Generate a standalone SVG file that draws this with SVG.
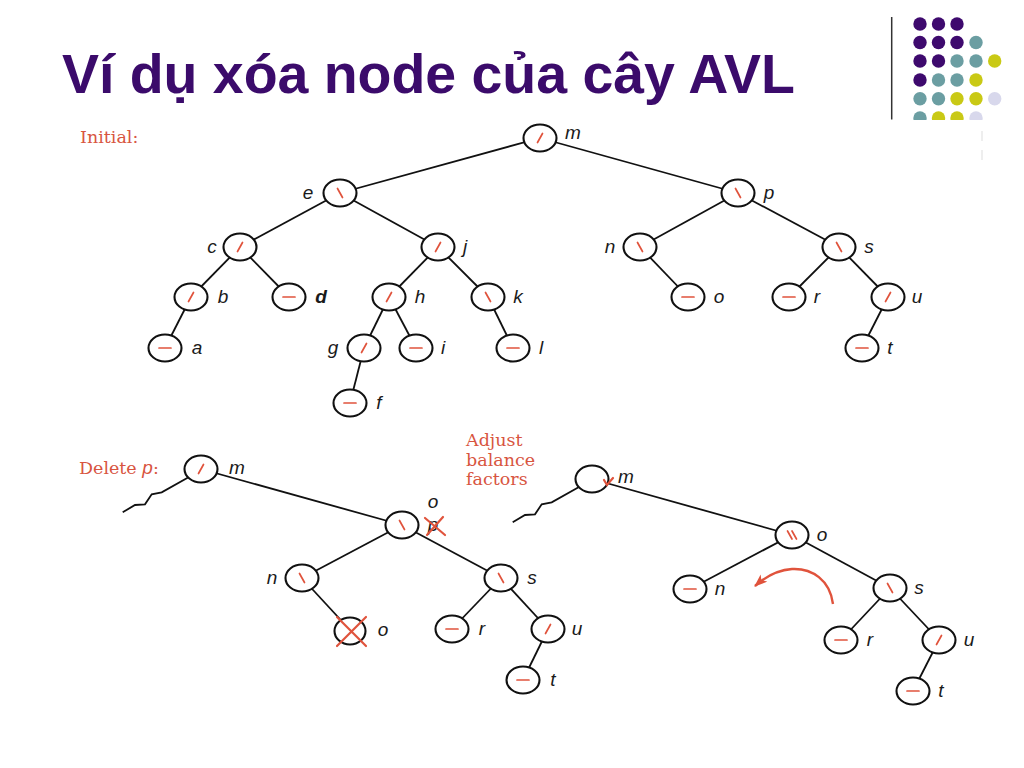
<svg xmlns="http://www.w3.org/2000/svg" width="1024" height="768" viewBox="0 0 1024 768">
<style>
.edge{stroke:#111;stroke-width:1.8;fill:none}
.nd{fill:#fff;stroke:#111;stroke-width:2.1}
.bf{stroke:#e0533c;stroke-width:1.7;stroke-linecap:round;fill:none}
.lb{font-family:"Liberation Sans",Arial,sans-serif;font-style:italic;font-size:19px;fill:#1a1a1a;text-anchor:middle}
.cap{font-family:"DejaVu Serif","Liberation Serif",serif;font-size:17.5px;fill:#d8553f}
.red{stroke:#e0533c;stroke-width:2.2;stroke-linecap:round;fill:none}
.pu{fill:#3e0a6e}.te{fill:#6b9ea2}.ye{fill:#c9c915}.la{fill:#d8d8ec}
</style>
<defs>
<path id="L" class="bf" d="M-2.5,4.5 L2.5,-4.5"/>
<path id="R" class="bf" d="M-2.5,-4.5 L2.5,4.5"/>
<path id="E" class="bf" d="M-6,0 L6,0"/>
<path id="RR" class="bf" d="M-4.5,-4 L0,4 M0,-4 L4.5,4"/>
<marker id="ah" markerUnits="userSpaceOnUse" viewBox="0 0 12 9" refX="11" refY="4.5" markerWidth="13" markerHeight="10" orient="auto">
<path d="M0,0 L12,4.5 L0,9 L3,4.5 z" fill="#e0533c"/>
</marker>
<clipPath id="dc"><rect x="900" y="0" width="124" height="120"/></clipPath>
</defs>

<!-- decoration -->
<g id="deco">
<line x1="891.7" y1="17" x2="891.7" y2="119.5" stroke="#333" stroke-width="1.5"/>
<g clip-path="url(#dc)">
<circle class="pu" cx="920" cy="24" r="6.7"/><circle class="pu" cx="938.5" cy="24" r="6.7"/><circle class="pu" cx="957" cy="24" r="6.7"/>
<circle class="pu" cx="920" cy="42.5" r="6.7"/><circle class="pu" cx="938.5" cy="42.5" r="6.7"/><circle class="pu" cx="957" cy="42.5" r="6.7"/><circle class="te" cx="976" cy="42.5" r="6.7"/>
<circle class="pu" cx="920" cy="61" r="6.7"/><circle class="pu" cx="938.5" cy="61" r="6.7"/><circle class="te" cx="957" cy="61" r="6.7"/><circle class="te" cx="976" cy="61" r="6.7"/><circle class="ye" cx="994.7" cy="61" r="6.7"/>
<circle class="pu" cx="920" cy="80" r="6.7"/><circle class="te" cx="938.5" cy="80" r="6.7"/><circle class="te" cx="957" cy="80" r="6.7"/><circle class="ye" cx="976" cy="80" r="6.7"/>
<circle class="te" cx="920" cy="98.7" r="6.7"/><circle class="te" cx="938.5" cy="98.7" r="6.7"/><circle class="ye" cx="957" cy="98.7" r="6.7"/><circle class="ye" cx="976" cy="98.7" r="6.7"/><circle class="la" cx="994.7" cy="98.7" r="6.7"/>
<circle class="te" cx="920" cy="118" r="6.7"/><circle class="ye" cx="938.5" cy="118" r="6.7"/><circle class="ye" cx="957" cy="118" r="6.7"/><circle class="la" cx="976" cy="118" r="6.7"/>
</g>
<line x1="982" y1="131" x2="982" y2="141" stroke="#ddd" stroke-width="1"/>
<line x1="982" y1="150" x2="982" y2="160" stroke="#ddd" stroke-width="1"/>
</g>

<text id="title" x="62" y="93" font-family="'Liberation Sans',Arial,sans-serif" font-weight="bold" font-size="55.5" fill="#3b0b6b" textLength="733" lengthAdjust="spacing">Ví dụ xóa node của cây AVL</text>

<text class="cap" x="80" y="143">Initial:</text>
<text class="cap" x="79" y="474">Delete <tspan font-family="'Liberation Sans',Arial,sans-serif" font-style="italic" font-size="19">p</tspan>:</text>
<text class="cap" x="466" y="446">Adjust</text>
<text class="cap" x="466" y="465.5">balance</text>
<text class="cap" x="466" y="485">factors</text>

<!-- connectors -->
<g id="connectors">
<line class="edge" x1="540" y1="138" x2="340" y2="193"/>
<line class="edge" x1="540" y1="138" x2="738" y2="193"/>
<line class="edge" x1="340" y1="193" x2="240" y2="247"/>
<line class="edge" x1="340" y1="193" x2="438" y2="247"/>
<line class="edge" x1="240" y1="247" x2="191" y2="297"/>
<line class="edge" x1="240" y1="247" x2="289" y2="297"/>
<line class="edge" x1="191" y1="297" x2="165" y2="348"/>
<line class="edge" x1="438" y1="247" x2="389" y2="297"/>
<line class="edge" x1="438" y1="247" x2="488" y2="297"/>
<line class="edge" x1="389" y1="297" x2="364" y2="348"/>
<line class="edge" x1="389" y1="297" x2="416" y2="348"/>
<line class="edge" x1="364" y1="348" x2="350" y2="403"/>
<line class="edge" x1="488" y1="297" x2="513" y2="348"/>
<line class="edge" x1="738" y1="193" x2="640" y2="247"/>
<line class="edge" x1="738" y1="193" x2="839" y2="247"/>
<line class="edge" x1="640" y1="247" x2="688" y2="297"/>
<line class="edge" x1="839" y1="247" x2="789" y2="297"/>
<line class="edge" x1="839" y1="247" x2="888" y2="297"/>
<line class="edge" x1="888" y1="297" x2="862" y2="348"/>

<polyline class="edge" points="122.7,512.3 135,505 145,504.3 151.7,494.3 161.7,492.3 189,477"/>
<line class="edge" x1="201" y1="469" x2="402" y2="525"/>
<line class="edge" x1="402" y1="525" x2="302" y2="578"/>
<line class="edge" x1="402" y1="525" x2="501" y2="578"/>
<line class="edge" x1="302" y1="578" x2="350" y2="630"/>
<line class="edge" x1="501" y1="578" x2="452" y2="629"/>
<line class="edge" x1="501" y1="578" x2="548" y2="629"/>
<line class="edge" x1="548" y1="629" x2="523" y2="680"/>

<polyline class="edge" points="512.7,522.3 525,515 535,514.3 541.7,504.3 551.7,502.3 579,487"/>
<line class="edge" x1="592" y1="479" x2="792" y2="535"/>
<line class="edge" x1="792" y1="535" x2="690" y2="589"/>
<line class="edge" x1="792" y1="535" x2="890" y2="588"/>
<line class="edge" x1="890" y1="588" x2="841" y2="640"/>
<line class="edge" x1="890" y1="588" x2="939" y2="640"/>
<line class="edge" x1="939" y1="640" x2="913" y2="691"/>
</g>

<!-- initial tree -->
<g id="i-m"><ellipse class="nd" cx="540" cy="138" rx="16.5" ry="13.5"/><use href="#L" x="540" y="138"/><text class="lb" x="573" y="139">m</text></g>
<g id="i-e"><ellipse class="nd" cx="340" cy="193" rx="16.5" ry="13.5"/><use href="#R" x="340" y="193"/><text class="lb" x="308" y="199">e</text></g>
<g id="i-p"><ellipse class="nd" cx="738" cy="193" rx="16.5" ry="13.5"/><use href="#R" x="738" y="193"/><text class="lb" x="769" y="199">p</text></g>
<g id="i-c"><ellipse class="nd" cx="240" cy="247" rx="16.5" ry="13.5"/><use href="#L" x="240" y="247"/><text class="lb" x="212" y="253">c</text></g>
<g id="i-j"><ellipse class="nd" cx="438" cy="247" rx="16.5" ry="13.5"/><use href="#L" x="438" y="247"/><text class="lb" x="465" y="253">j</text></g>
<g id="i-n"><ellipse class="nd" cx="640" cy="247" rx="16.5" ry="13.5"/><use href="#R" x="640" y="247"/><text class="lb" x="610" y="253">n</text></g>
<g id="i-s"><ellipse class="nd" cx="839" cy="247" rx="16.5" ry="13.5"/><use href="#R" x="839" y="247"/><text class="lb" x="869" y="253">s</text></g>
<g id="i-b"><ellipse class="nd" cx="191" cy="297" rx="16.5" ry="13.5"/><use href="#L" x="191" y="297"/><text class="lb" x="223" y="303">b</text></g>
<g id="i-d"><ellipse class="nd" cx="289" cy="297" rx="16.5" ry="13.5"/><use href="#E" x="289" y="297"/><text class="lb" x="321" y="303" font-weight="bold">d</text></g>
<g id="i-h"><ellipse class="nd" cx="389" cy="297" rx="16.5" ry="13.5"/><use href="#L" x="389" y="297"/><text class="lb" x="420" y="303">h</text></g>
<g id="i-k"><ellipse class="nd" cx="488" cy="297" rx="16.5" ry="13.5"/><use href="#R" x="488" y="297"/><text class="lb" x="518" y="303">k</text></g>
<g id="i-o"><ellipse class="nd" cx="688" cy="297" rx="16.5" ry="13.5"/><use href="#E" x="688" y="297"/><text class="lb" x="719" y="303">o</text></g>
<g id="i-r"><ellipse class="nd" cx="789" cy="297" rx="16.5" ry="13.5"/><use href="#E" x="789" y="297"/><text class="lb" x="817" y="303">r</text></g>
<g id="i-u"><ellipse class="nd" cx="888" cy="297" rx="16.5" ry="13.5"/><use href="#L" x="888" y="297"/><text class="lb" x="917" y="303">u</text></g>
<g id="i-a"><ellipse class="nd" cx="165" cy="348" rx="16.5" ry="13.5"/><use href="#E" x="165" y="348"/><text class="lb" x="197" y="354">a</text></g>
<g id="i-g"><ellipse class="nd" cx="364" cy="348" rx="16.5" ry="13.5"/><use href="#L" x="364" y="348"/><text class="lb" x="333" y="354">g</text></g>
<g id="i-i"><ellipse class="nd" cx="416" cy="348" rx="16.5" ry="13.5"/><use href="#E" x="416" y="348"/><text class="lb" x="443" y="354">i</text></g>
<g id="i-l"><ellipse class="nd" cx="513" cy="348" rx="16.5" ry="13.5"/><use href="#E" x="513" y="348"/><text class="lb" x="541" y="354">l</text></g>
<g id="i-t"><ellipse class="nd" cx="862" cy="348" rx="16.5" ry="13.5"/><use href="#E" x="862" y="348"/><text class="lb" x="890" y="354">t</text></g>
<g id="i-f"><ellipse class="nd" cx="350" cy="403" rx="16.5" ry="13.5"/><use href="#E" x="350" y="403"/><text class="lb" x="379" y="409">f</text></g>

<!-- delete p tree -->
<g id="d-m"><ellipse class="nd" cx="201" cy="469" rx="16.5" ry="13.5"/><use href="#L" x="201" y="469"/><text class="lb" x="237" y="474">m</text></g>
<g id="d-o"><ellipse class="nd" cx="402" cy="525" rx="16.5" ry="13.5"/><use href="#R" x="402" y="525"/><text class="lb" x="433" y="508">o</text><text class="lb" x="433" y="531">p</text><path class="red" d="M425,518 L445,535 M443,517 L427,535"/></g>
<g id="d-n"><ellipse class="nd" cx="302" cy="578" rx="16.5" ry="13.5"/><use href="#R" x="302" y="578"/><text class="lb" x="272" y="584">n</text></g>
<g id="d-s"><ellipse class="nd" cx="501" cy="578" rx="16.5" ry="13.5"/><use href="#R" x="501" y="578"/><text class="lb" x="532" y="584">s</text></g>
<g id="d-o2"><ellipse class="nd" cx="350" cy="631" rx="15.5" ry="13.5" stroke-width="2.6"/><path class="red" d="M337,617 L366,646 M366,617 L337,646"/><text class="lb" x="383" y="636">o</text></g>
<g id="d-r"><ellipse class="nd" cx="452" cy="629" rx="16.5" ry="13.5"/><use href="#E" x="452" y="629"/><text class="lb" x="482" y="635">r</text></g>
<g id="d-u"><ellipse class="nd" cx="548" cy="629" rx="16.5" ry="13.5"/><use href="#L" x="548" y="629"/><text class="lb" x="577" y="635">u</text></g>
<g id="d-t"><ellipse class="nd" cx="523" cy="680" rx="16.5" ry="13.5"/><use href="#E" x="523" y="680"/><text class="lb" x="553" y="686">t</text></g>

<!-- adjusted tree -->
<g id="a-m"><ellipse class="nd" cx="592" cy="479" rx="16.5" ry="13.5"/><path class="red" d="M604,480 L607,485 L613,478"/><text class="lb" x="626" y="483">m</text></g>
<g id="a-o"><ellipse class="nd" cx="792" cy="535" rx="16.5" ry="13.5"/><use href="#RR" x="792" y="535"/><text class="lb" x="822" y="541">o</text></g>
<g id="a-n"><ellipse class="nd" cx="690" cy="589" rx="16.5" ry="13.5"/><use href="#E" x="690" y="589"/><text class="lb" x="720" y="595">n</text></g>
<g id="a-s"><ellipse class="nd" cx="890" cy="588" rx="16.5" ry="13.5"/><use href="#R" x="890" y="588"/><text class="lb" x="919" y="594">s</text></g>
<g id="a-r"><ellipse class="nd" cx="841" cy="640" rx="16.5" ry="13.5"/><use href="#E" x="841" y="640"/><text class="lb" x="870" y="646">r</text></g>
<g id="a-u"><ellipse class="nd" cx="939" cy="640" rx="16.5" ry="13.5"/><use href="#L" x="939" y="640"/><text class="lb" x="969" y="646">u</text></g>
<g id="a-t"><ellipse class="nd" cx="913" cy="691" rx="16.5" ry="13.5"/><use href="#E" x="913" y="691"/><text class="lb" x="941" y="697">t</text></g>

<path id="rot" d="M833,604 C830,580 812,568 792,569 C778,570 765,577 755,586" stroke="#e0533c" stroke-width="2.4" fill="none" marker-end="url(#ah)"/>
</svg>
